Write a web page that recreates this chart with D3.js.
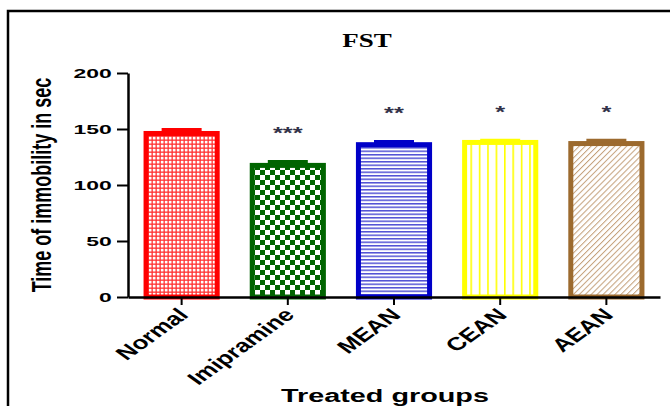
<!DOCTYPE html>
<html>
<head>
<meta charset="utf-8">
<script src="https://cdn.jsdelivr.net/npm/d3@7"></script>
<style>
  body { margin: 0; background: #fff; }
  text { font-family: "Liberation Sans", Arial, sans-serif; font-weight: bold; }
</style>
</head>
<body>
<script>
// data
const groups = ['Normal', 'Imipramine', 'MEAN', 'CEAN', 'AEAN'];
const means = [146, 117.5, 136, 138, 137];
const sems = [3, 3, 2.5, 1.5, 2.5];
const signif = ['', '***', '**', '*', '*'];
const yTicks = [0, 50, 100, 150, 200];

const colors = ['#ff0000', '#006400', '#0000c8', '#ffff00', '#9c6a2e'];

const width = 670, height = 406;
const svg = d3.select('body').append('svg')
  .attr('width', width)
  .attr('height', height);

const defs = svg.append('defs');

// fill patterns, one per group
function pattern(id, w, h, build, rot) {
  let p = defs.append('pattern')
    .attr('id', id)
    .attr('patternUnits', 'userSpaceOnUse')
    .attr('width', w)
    .attr('height', h);
  if (rot) p.attr('patternTransform', 'rotate(' + rot + ')');
  p.append('rect').attr('width', w).attr('height', h).attr('fill', '#fff');
  build(p);
}

pattern('p0', 4, 4, p => {
  p.append('rect').attr('width', 4).attr('height', 4).attr('fill', '#ff3030');
  p.append('rect').attr('x', 0.8).attr('y', 0.8).attr('width', 2.7).attr('height', 2.7).attr('fill', '#fff');
});
pattern('p1', 10, 10, p => {
  p.append('rect').attr('width', 5).attr('height', 5).attr('fill', '#006400');
  p.append('rect').attr('x', 5).attr('y', 5).attr('width', 5).attr('height', 5).attr('fill', '#006400');
});
pattern('p2', 4, 3.5, p => {
  p.append('rect').attr('width', 4).attr('height', 1.5).attr('fill', '#5050d4');
});
pattern('p3', 8.4, 4, p => {
  p.append('rect').attr('width', 1.6).attr('height', 4).attr('fill', '#ffff00');
});
pattern('p4', 4.2, 4.2, p => {
  p.append('rect').attr('width', 1).attr('height', 4.2).attr('fill', '#c4a07a');
}, 45);

// frame round the figure
svg.append('rect')
  .attr('x', 8).attr('y', 11)
  .attr('width', 700).attr('height', 440)
  .attr('fill', 'none')
  .attr('stroke', '#000')
  .attr('stroke-width', 2.5);

const x = d3.scaleBand()
  .domain(groups)
  .range([128, 660])
  .paddingInner(0.33)
  .paddingOuter(0.17);

const y = d3.scaleLinear()
  .domain([0, 200])
  .range([297, 73]);

// bars
const bars = svg.append('g');
groups.forEach(function(g, i) {
  bars.append('rect')
    .attr('x', x(g))
    .attr('y', y(means[i]))
    .attr('width', x.bandwidth())
    .attr('height', y(0) - y(means[i]))
    .attr('fill', 'url(#p' + i + ')')
    .attr('stroke', colors[i])
    .attr('stroke-width', 5);

  // error bar (upper half only)
  let cx = x(g) + x.bandwidth() / 2;
  bars.append('line')
    .attr('x1', cx).attr('x2', cx)
    .attr('y1', y(means[i])).attr('y2', y(means[i] + sems[i]))
    .attr('stroke', colors[i]).attr('stroke-width', 3);
  bars.append('line')
    .attr('x1', cx - 20).attr('x2', cx + 20)
    .attr('y1', y(means[i] + sems[i])).attr('y2', y(means[i] + sems[i]))
    .attr('stroke', colors[i]).attr('stroke-width', 4);

  // significance stars
  if (signif[i]) {
    svg.append('text')
      .attr('transform', 'translate(' + cx + ',' + (y(means[i] + sems[i]) - 23) + ') scale(1.5,1)')
      .attr('text-anchor', 'middle')
      .attr('font-size', 17)
      .attr('fill', '#33334a')
      .text(signif[i]);
  }
});

// y axis
const yAxis = svg.append('g')
  .attr('transform', 'translate(128,0)')
  .call(d3.axisLeft(y).tickValues(yTicks).tickSize(11).tickSizeOuter(0));
yAxis.select('.domain').attr('stroke-width', 2.5);
yAxis.selectAll('.tick line').attr('stroke-width', 2);
yAxis.selectAll('.tick text')
  .attr('font-size', 13.5)
  .attr('x', -9.5)
  .attr('transform', 'scale(1.7,1)')
  .attr('fill', '#000');

// x axis
const xAxis = svg.append('g')
  .attr('transform', 'translate(0,297)')
  .call(d3.axisBottom(x).tickSize(8).tickSizeOuter(0));
xAxis.select('.domain').attr('stroke-width', 2.5);
xAxis.selectAll('.tick line').attr('stroke-width', 2);
xAxis.selectAll('.tick text')
  .attr('font-size', 18.5)
  .attr('fill', '#000')
  .attr('text-anchor', 'end')
  .attr('x', null).attr('y', null).attr('dy', null)
  .attr('transform', 'translate(8,19) scale(1.4,1) rotate(-45)');

// titles
svg.append('text')
  .attr('transform', 'translate(367,47) scale(1.5,1)')
  .attr('text-anchor', 'middle')
  .attr('font-size', 18)
  .style('font-family', '"Liberation Serif", "Times New Roman", serif')
  .text('FST');

svg.append('text')
  .attr('transform', 'translate(385,402) scale(1.6,1)')
  .attr('text-anchor', 'middle')
  .attr('font-size', 18)
  .text('Treated groups');

svg.append('text')
  .attr('transform', 'translate(51,185) rotate(-90) scale(1,1.5)')
  .attr('text-anchor', 'middle')
  .attr('font-size', 18)
  .text('Time of immobility in sec');
</script>
</body>
</html>
